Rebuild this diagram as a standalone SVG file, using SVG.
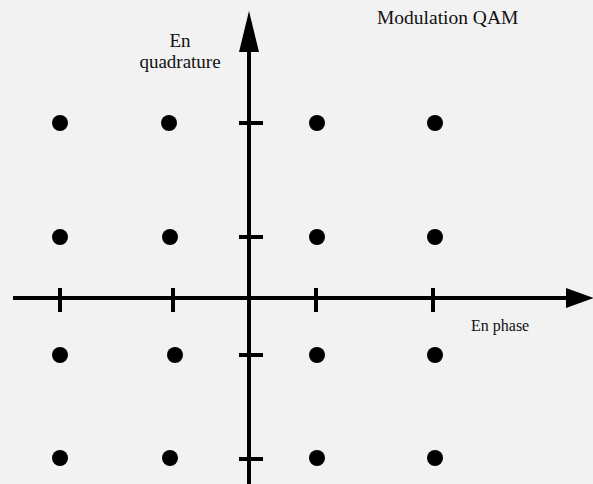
<svg xmlns="http://www.w3.org/2000/svg" width="593" height="484" viewBox="0 0 593 484">
<style>
.ax{stroke:#000;stroke-width:4;fill:none}
.tk{stroke:#000;stroke-width:4}
.dot{fill:#000}
.t{font-family:"Liberation Serif","Times New Roman",serif;fill:#111}
</style>
<rect width="593" height="484" fill="#f2f2f2"/>
<g id="axes">
<line class="ax" x1="13" y1="298" x2="570" y2="298"/>
<polygon points="566,288 594,298 566,308" fill="#000"/>
<line class="ax" x1="249" y1="484" x2="249" y2="48"/>
<polygon points="239,52 249,11 259,52" fill="#000"/>
<g id="ticks">
<line class="tk" x1="60" y1="288" x2="60" y2="312"/>
<line class="tk" x1="173" y1="288" x2="173" y2="312"/>
<line class="tk" x1="316" y1="288" x2="316" y2="312"/>
<line class="tk" x1="433" y1="288" x2="433" y2="312"/>
<line class="tk" x1="239" y1="123" x2="263" y2="123"/>
<line class="tk" x1="239" y1="237" x2="263" y2="237"/>
<line class="tk" x1="239" y1="355" x2="263" y2="355"/>
<line class="tk" x1="239" y1="459" x2="263" y2="459"/>
</g>
</g>
<g id="points">
<circle class="dot" cx="60" cy="123" r="8"/>
<circle class="dot" cx="169" cy="123" r="8"/>
<circle class="dot" cx="317" cy="123" r="8"/>
<circle class="dot" cx="435" cy="123" r="8"/>
<circle class="dot" cx="60" cy="237" r="8"/>
<circle class="dot" cx="170" cy="237" r="8"/>
<circle class="dot" cx="317" cy="237" r="8"/>
<circle class="dot" cx="435" cy="237" r="8"/>
<circle class="dot" cx="60" cy="355" r="8"/>
<circle class="dot" cx="175" cy="355" r="8"/>
<circle class="dot" cx="317" cy="355" r="8"/>
<circle class="dot" cx="435" cy="355" r="8"/>
<circle class="dot" cx="60" cy="458" r="8"/>
<circle class="dot" cx="170" cy="458" r="8"/>
<circle class="dot" cx="317" cy="458" r="8"/>
<circle class="dot" cx="435" cy="458" r="8"/>
</g>
<g id="labels">
<text class="t" x="377" y="24" font-size="19.5">Modulation QAM</text>
<text class="t" x="180" y="47" font-size="19" text-anchor="middle">En</text>
<text class="t" x="180" y="68" font-size="19" text-anchor="middle">quadrature</text>
<text class="t" x="471" y="331" font-size="16">En phase</text>
</g>
</svg>
